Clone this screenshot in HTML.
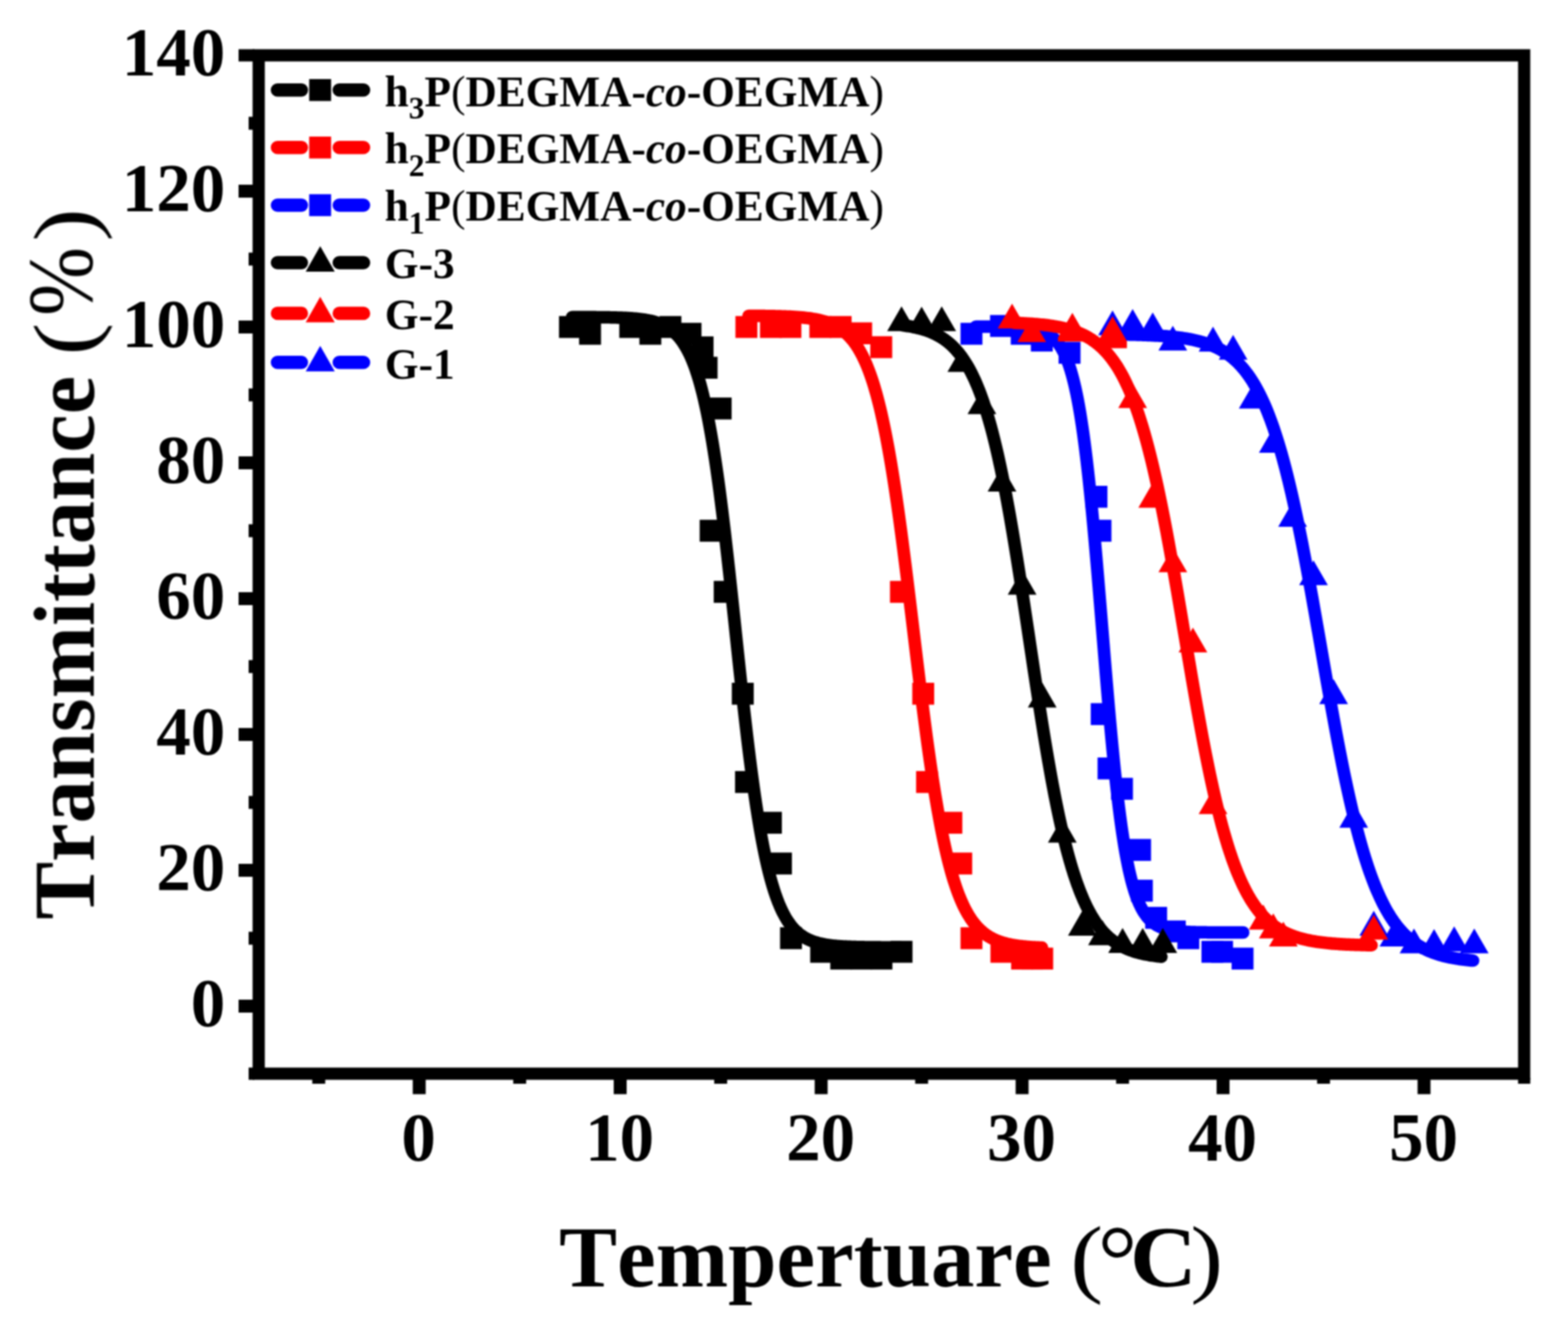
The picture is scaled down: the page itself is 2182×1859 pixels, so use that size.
<!DOCTYPE html>
<html lang="en"><head><meta charset="utf-8"><title>Transmittance vs Temperature</title>
<style>
html,body{margin:0;padding:0;background:#fff}
body{width:2182px;height:1859px;overflow:hidden}
svg{display:block}
text{font-family:"Liberation Serif","Times New Roman",serif;font-weight:bold;fill:#000;font-kerning:none;font-variant-ligatures:none}
.n{font-weight:normal}
</style></head><body>
<svg width="2182" height="1859" viewBox="0 0 2182 1859">
<defs><filter id="soft" x="0" y="0" width="2182" height="1859" filterUnits="userSpaceOnUse" color-interpolation-filters="sRGB"><feGaussianBlur stdDeviation="1"/></filter></defs>
<rect width="2182" height="1859" fill="#fff"/>
<g filter="url(#soft)">
<g id="plots" stroke-linecap="round" stroke-linejoin="round">
<g id="usq">
<path d="M1358.03,454.47 L1359.59,454.48 L1361.14,454.48 L1362.70,454.48 L1364.26,454.49 L1365.81,454.49 L1367.37,454.50 L1368.92,454.50 L1370.48,454.51 L1372.04,454.51 L1373.59,454.52 L1375.15,454.53 L1376.71,454.53 L1378.26,454.54 L1379.82,454.55 L1381.37,454.56 L1382.93,454.57 L1384.49,454.58 L1386.04,454.60 L1387.60,454.61 L1389.15,454.63 L1390.71,454.65 L1392.27,454.67 L1393.82,454.69 L1395.38,454.71 L1396.94,454.74 L1398.49,454.76 L1400.05,454.79 L1401.60,454.83 L1403.16,454.86 L1404.72,454.90 L1406.27,454.95 L1407.83,455.00 L1409.39,455.05 L1410.94,455.11 L1412.50,455.17 L1414.05,455.24 L1415.61,455.31 L1417.17,455.39 L1418.72,455.48 L1420.28,455.58 L1421.84,455.69 L1423.39,455.81 L1424.95,455.94 L1426.50,456.08 L1428.06,456.23 L1429.62,456.40 L1431.17,456.59 L1432.73,456.79 L1434.28,457.01 L1435.84,457.25 L1437.40,457.52 L1438.95,457.81 L1440.51,458.13 L1442.07,458.47 L1443.62,458.85 L1445.18,459.27 L1446.73,459.72 L1448.29,460.22 L1449.85,460.76 L1451.40,461.36 L1452.96,462.01 L1454.52,462.72 L1456.07,463.49 L1457.63,464.34 L1459.18,465.26 L1460.74,466.27 L1462.30,467.38 L1463.85,468.58 L1465.41,469.89 L1466.97,471.33 L1468.52,472.89 L1470.08,474.60 L1471.63,476.46 L1473.19,478.48 L1474.75,480.69 L1476.30,483.09 L1477.86,485.70 L1479.41,488.54 L1480.97,491.63 L1482.53,494.98 L1484.08,498.62 L1485.64,502.56 L1487.20,506.84 L1488.75,511.47 L1490.31,516.47 L1491.86,521.87 L1493.42,527.70 L1494.98,533.99 L1496.53,540.75 L1498.09,548.02 L1499.65,555.81 L1501.20,564.16 L1502.76,573.09 L1504.31,582.62 L1505.87,592.77 L1507.43,603.55 L1508.98,614.98 L1510.54,627.08 L1512.10,639.83 L1513.65,653.25 L1515.21,667.32 L1516.76,682.04 L1518.32,697.38 L1519.88,713.33 L1521.43,729.84 L1522.99,746.87 L1524.55,764.38 L1526.10,782.32 L1527.66,800.62 L1529.21,819.23 L1530.77,838.05 L1532.33,857.04 L1533.88,876.10 L1535.44,895.15 L1536.99,914.14 L1538.55,932.96 L1540.11,951.56 L1541.66,969.86 L1543.22,987.79 L1544.78,1005.30 L1546.33,1022.33 L1547.89,1038.83 L1549.44,1054.77 L1551.00,1070.11 L1552.56,1084.82 L1554.11,1098.89 L1555.67,1112.30 L1557.23,1125.05 L1558.78,1137.13 L1560.34,1148.56 L1561.89,1159.33 L1563.45,1169.47 L1565.01,1179.00 L1566.56,1187.92 L1568.12,1196.26 L1569.68,1204.06 L1571.23,1211.32 L1572.79,1218.07 L1574.34,1224.35 L1575.90,1230.18 L1577.46,1235.58 L1579.01,1240.58 L1580.57,1245.20 L1582.12,1249.47 L1583.68,1253.41 L1585.24,1257.05 L1586.79,1260.40 L1588.35,1263.48 L1589.91,1266.32 L1591.46,1268.93 L1593.02,1271.33 L1594.57,1273.53 L1596.13,1275.56 L1597.69,1277.42 L1599.24,1279.12 L1600.80,1280.68 L1602.36,1282.12 L1603.91,1283.43 L1605.47,1284.63 L1607.02,1285.73 L1608.58,1286.74 L1610.14,1287.67 L1611.69,1288.51 L1613.25,1289.29 L1614.81,1290.00 L1616.36,1290.64 L1617.92,1291.24 L1619.47,1291.78 L1621.03,1292.28 L1622.59,1292.73 L1624.14,1293.15 L1625.70,1293.52 L1627.26,1293.87 L1628.81,1294.19 L1630.37,1294.48 L1631.92,1294.74 L1633.48,1294.99 L1635.04,1295.21 L1636.59,1295.41 L1638.15,1295.59 L1639.70,1295.76 L1641.26,1295.92 L1642.82,1296.06 L1644.37,1296.19 L1645.93,1296.31 L1647.49,1296.41 L1649.04,1296.51 L1650.60,1296.60 L1652.15,1296.68 L1653.71,1296.76 L1655.27,1296.83 L1656.82,1296.89 L1658.38,1296.95 L1659.94,1297.00 L1661.49,1297.05 L1663.05,1297.09 L1664.60,1297.13 L1666.16,1297.17 L1667.72,1297.20 L1669.27,1297.23 L1670.83,1297.26 L1672.39,1297.28 L1673.94,1297.31 L1675.50,1297.33 L1677.05,1297.35 L1678.61,1297.37 L1680.17,1297.38 L1681.72,1297.40 L1683.28,1297.41 L1684.83,1297.42 L1686.39,1297.43 L1687.95,1297.44 L1689.50,1297.45 L1691.06,1297.46 L1692.62,1297.47 L1694.17,1297.48 L1695.73,1297.48 L1697.28,1297.49 L1698.84,1297.49 L1700.40,1297.50 L1701.95,1297.50 L1703.51,1297.51 L1705.07,1297.51 L1706.62,1297.52 L1708.18,1297.52 L1709.73,1297.52 L1711.29,1297.52 L1712.85,1297.53 L1714.40,1297.53 L1715.96,1297.53 L1717.52,1297.53 L1719.07,1297.53 L1720.63,1297.54 L1722.18,1297.54 L1723.74,1297.54 L1725.30,1297.54 L1726.85,1297.54 L1728.41,1297.54 L1729.97,1297.54" fill="none" stroke="#00f" stroke-width="17.5"/>
<rect x="1336.63" y="449.20" width="30.50" height="30.50" fill="#00f"/>
<rect x="1377.74" y="438.33" width="30.50" height="30.50" fill="#00f"/>
<rect x="1406.54" y="449.20" width="30.50" height="30.50" fill="#00f"/>
<rect x="1434.51" y="458.65" width="30.50" height="30.50" fill="#00f"/>
<rect x="1473.10" y="475.66" width="30.50" height="30.50" fill="#00f"/>
<rect x="1510.57" y="676.00" width="30.50" height="30.50" fill="#00f"/>
<rect x="1516.16" y="723.25" width="30.50" height="30.50" fill="#00f"/>
<rect x="1517.84" y="978.40" width="30.50" height="30.50" fill="#00f"/>
<rect x="1527.35" y="1054.00" width="30.50" height="30.50" fill="#00f"/>
<rect x="1546.09" y="1082.35" width="30.50" height="30.50" fill="#00f"/>
<rect x="1571.25" y="1167.40" width="30.50" height="30.50" fill="#00f"/>
<rect x="1573.77" y="1224.10" width="30.50" height="30.50" fill="#00f"/>
<rect x="1593.63" y="1261.90" width="30.50" height="30.50" fill="#00f"/>
<rect x="1619.63" y="1280.80" width="30.50" height="30.50" fill="#00f"/>
<rect x="1638.37" y="1290.25" width="30.50" height="30.50" fill="#00f"/>
<rect x="1671.93" y="1309.15" width="30.50" height="30.50" fill="#00f"/>
<rect x="1685.35" y="1309.15" width="30.50" height="30.50" fill="#00f"/>
<rect x="1713.88" y="1318.60" width="30.50" height="30.50" fill="#00f"/>
</g>
<g id="rsq">
<path d="M1041.75,439.42 L1043.45,439.43 L1045.16,439.44 L1046.87,439.46 L1048.58,439.47 L1050.29,439.48 L1052.00,439.49 L1053.70,439.51 L1055.41,439.52 L1057.12,439.54 L1058.83,439.56 L1060.54,439.58 L1062.25,439.60 L1063.95,439.62 L1065.66,439.64 L1067.37,439.67 L1069.08,439.69 L1070.79,439.72 L1072.50,439.75 L1074.20,439.78 L1075.91,439.82 L1077.62,439.85 L1079.33,439.89 L1081.04,439.93 L1082.75,439.98 L1084.45,440.02 L1086.16,440.07 L1087.87,440.13 L1089.58,440.18 L1091.29,440.24 L1093.00,440.31 L1094.70,440.38 L1096.41,440.45 L1098.12,440.53 L1099.83,440.61 L1101.54,440.70 L1103.25,440.80 L1104.95,440.90 L1106.66,441.01 L1108.37,441.12 L1110.08,441.25 L1111.79,441.38 L1113.50,441.52 L1115.20,441.67 L1116.91,441.82 L1118.62,441.99 L1120.33,442.18 L1122.04,442.37 L1123.75,442.57 L1125.45,442.79 L1127.16,443.03 L1128.87,443.28 L1130.58,443.54 L1132.29,443.83 L1134.00,444.13 L1135.70,444.45 L1137.41,444.79 L1139.12,445.16 L1140.83,445.55 L1142.54,445.97 L1144.25,446.41 L1145.95,446.88 L1147.66,447.39 L1149.37,447.92 L1151.08,448.49 L1152.79,449.10 L1154.50,449.75 L1156.20,450.44 L1157.91,451.18 L1159.62,451.96 L1161.33,452.79 L1163.04,453.68 L1164.75,454.63 L1166.45,455.63 L1168.16,456.70 L1169.87,457.84 L1171.58,459.06 L1173.29,460.35 L1175.00,461.72 L1176.70,463.17 L1178.41,464.72 L1180.12,466.37 L1181.83,468.12 L1183.54,469.98 L1185.25,471.95 L1186.95,474.05 L1188.66,476.28 L1190.37,478.64 L1192.08,481.14 L1193.79,483.79 L1195.50,486.61 L1197.20,489.59 L1198.91,492.74 L1200.62,496.08 L1202.33,499.62 L1204.04,503.35 L1205.75,507.30 L1207.45,511.47 L1209.16,515.87 L1210.87,520.51 L1212.58,525.41 L1214.29,530.56 L1216.00,535.99 L1217.70,541.70 L1219.41,547.69 L1221.12,553.99 L1222.83,560.60 L1224.54,567.52 L1226.25,574.76 L1227.95,582.34 L1229.66,590.26 L1231.37,598.51 L1233.08,607.12 L1234.79,616.08 L1236.50,625.39 L1238.20,635.05 L1239.91,645.07 L1241.62,655.44 L1243.33,666.15 L1245.04,677.21 L1246.75,688.60 L1248.45,700.31 L1250.16,712.33 L1251.87,724.66 L1253.58,737.26 L1255.29,750.13 L1256.99,763.25 L1258.70,776.60 L1260.41,790.14 L1262.12,803.87 L1263.83,817.75 L1265.54,831.76 L1267.24,845.86 L1268.95,860.03 L1270.66,874.25 L1272.37,888.47 L1274.08,902.68 L1275.79,916.84 L1277.49,930.92 L1279.20,944.89 L1280.91,958.73 L1282.62,972.41 L1284.33,985.90 L1286.04,999.19 L1287.74,1012.24 L1289.45,1025.04 L1291.16,1037.58 L1292.87,1049.82 L1294.58,1061.76 L1296.29,1073.38 L1297.99,1084.68 L1299.70,1095.65 L1301.41,1106.27 L1303.12,1116.54 L1304.83,1126.46 L1306.54,1136.03 L1308.24,1145.24 L1309.95,1154.10 L1311.66,1162.62 L1313.37,1170.78 L1315.08,1178.60 L1316.79,1186.09 L1318.49,1193.25 L1320.20,1200.08 L1321.91,1206.60 L1323.62,1212.81 L1325.33,1218.73 L1327.04,1224.36 L1328.74,1229.71 L1330.45,1234.80 L1332.16,1239.62 L1333.87,1244.20 L1335.58,1248.53 L1337.29,1252.64 L1338.99,1256.53 L1340.70,1260.21 L1342.41,1263.69 L1344.12,1266.98 L1345.83,1270.09 L1347.54,1273.02 L1349.24,1275.79 L1350.95,1278.40 L1352.66,1280.87 L1354.37,1283.19 L1356.08,1285.38 L1357.79,1287.44 L1359.49,1289.38 L1361.20,1291.21 L1362.91,1292.93 L1364.62,1294.55 L1366.33,1296.08 L1368.04,1297.51 L1369.74,1298.86 L1371.45,1300.13 L1373.16,1301.32 L1374.87,1302.44 L1376.58,1303.49 L1378.29,1304.48 L1379.99,1305.41 L1381.70,1306.28 L1383.41,1307.10 L1385.12,1307.87 L1386.83,1308.60 L1388.54,1309.28 L1390.24,1309.91 L1391.95,1310.51 L1393.66,1311.07 L1395.37,1311.60 L1397.08,1312.10 L1398.79,1312.56 L1400.49,1313.00 L1402.20,1313.40 L1403.91,1313.79 L1405.62,1314.15 L1407.33,1314.48 L1409.04,1314.80 L1410.74,1315.10 L1412.45,1315.38 L1414.16,1315.64 L1415.87,1315.88 L1417.58,1316.11 L1419.29,1316.33 L1420.99,1316.53 L1422.70,1316.72 L1424.41,1316.90 L1426.12,1317.07 L1427.83,1317.22 L1429.54,1317.37 L1431.24,1317.51 L1432.95,1317.64 L1434.66,1317.76 L1436.37,1317.87 L1438.08,1317.98 L1439.79,1318.08 L1441.49,1318.17 L1443.20,1318.26 L1444.91,1318.34 L1446.62,1318.42 L1448.33,1318.49 L1450.04,1318.56" fill="none" stroke="#f00" stroke-width="17.5"/>
<rect x="1023.42" y="439.75" width="30.50" height="30.50" fill="#f00"/>
<rect x="1057.54" y="439.75" width="30.50" height="30.50" fill="#f00"/>
<rect x="1084.66" y="439.75" width="30.50" height="30.50" fill="#f00"/>
<rect x="1126.33" y="439.75" width="30.50" height="30.50" fill="#f00"/>
<rect x="1154.58" y="439.75" width="30.50" height="30.50" fill="#f00"/>
<rect x="1183.10" y="448.54" width="30.50" height="30.50" fill="#f00"/>
<rect x="1211.07" y="467.82" width="30.50" height="30.50" fill="#f00"/>
<rect x="1238.47" y="808.30" width="30.50" height="30.50" fill="#f00"/>
<rect x="1269.51" y="950.05" width="30.50" height="30.50" fill="#f00"/>
<rect x="1274.83" y="1072.90" width="30.50" height="30.50" fill="#f00"/>
<rect x="1308.66" y="1129.60" width="30.50" height="30.50" fill="#f00"/>
<rect x="1322.37" y="1186.30" width="30.50" height="30.50" fill="#f00"/>
<rect x="1336.63" y="1290.25" width="30.50" height="30.50" fill="#f00"/>
<rect x="1378.30" y="1309.15" width="30.50" height="30.50" fill="#f00"/>
<rect x="1407.10" y="1318.60" width="30.50" height="30.50" fill="#f00"/>
<rect x="1421.08" y="1318.60" width="30.50" height="30.50" fill="#f00"/>
<rect x="1435.07" y="1318.60" width="30.50" height="30.50" fill="#f00"/>
</g>
<g id="bsq">
<path d="M796.21,441.21 L798.13,441.22 L800.04,441.22 L801.96,441.23 L803.87,441.23 L805.78,441.24 L807.70,441.24 L809.61,441.25 L811.53,441.26 L813.44,441.27 L815.36,441.27 L817.27,441.28 L819.18,441.29 L821.10,441.30 L823.01,441.32 L824.93,441.33 L826.84,441.34 L828.76,441.36 L830.67,441.38 L832.58,441.39 L834.50,441.41 L836.41,441.43 L838.33,441.46 L840.24,441.48 L842.16,441.51 L844.07,441.54 L845.98,441.57 L847.90,441.61 L849.81,441.65 L851.73,441.69 L853.64,441.73 L855.56,441.78 L857.47,441.83 L859.38,441.89 L861.30,441.95 L863.21,442.02 L865.13,442.09 L867.04,442.17 L868.96,442.26 L870.87,442.36 L872.78,442.46 L874.70,442.57 L876.61,442.69 L878.53,442.82 L880.44,442.96 L882.36,443.12 L884.27,443.29 L886.18,443.47 L888.10,443.67 L890.01,443.88 L891.93,444.12 L893.84,444.37 L895.76,444.64 L897.67,444.94 L899.58,445.27 L901.50,445.62 L903.41,446.00 L905.33,446.41 L907.24,446.86 L909.15,447.35 L911.07,447.88 L912.98,448.45 L914.90,449.08 L916.81,449.75 L918.73,450.48 L920.64,451.28 L922.55,452.14 L924.47,453.07 L926.38,454.08 L928.30,455.18 L930.21,456.36 L932.13,457.65 L934.04,459.04 L935.95,460.55 L937.87,462.18 L939.78,463.94 L941.70,465.85 L943.61,467.91 L945.53,470.14 L947.44,472.55 L949.35,475.15 L951.27,477.96 L953.18,480.98 L955.10,484.25 L957.01,487.76 L958.93,491.55 L960.84,495.62 L962.75,500.00 L964.67,504.70 L966.58,509.75 L968.50,515.16 L970.41,520.96 L972.33,527.16 L974.24,533.79 L976.15,540.87 L978.07,548.41 L979.98,556.44 L981.90,564.97 L983.81,574.02 L985.73,583.61 L987.64,593.76 L989.55,604.46 L991.47,615.73 L993.38,627.58 L995.30,640.00 L997.21,653.00 L999.12,666.56 L1001.04,680.69 L1002.95,695.35 L1004.87,710.53 L1006.78,726.20 L1008.70,742.33 L1010.61,758.88 L1012.52,775.81 L1014.44,793.08 L1016.35,810.64 L1018.27,828.42 L1020.18,846.38 L1022.10,864.45 L1024.01,882.57 L1025.92,900.68 L1027.84,918.72 L1029.75,936.63 L1031.67,954.35 L1033.58,971.82 L1035.50,988.99 L1037.41,1005.81 L1039.32,1022.23 L1041.24,1038.22 L1043.15,1053.74 L1045.07,1068.76 L1046.98,1083.25 L1048.90,1097.20 L1050.81,1110.59 L1052.72,1123.40 L1054.64,1135.65 L1056.55,1147.31 L1058.47,1158.40 L1060.38,1168.93 L1062.30,1178.90 L1064.21,1188.32 L1066.12,1197.20 L1068.04,1205.58 L1069.95,1213.45 L1071.87,1220.84 L1073.78,1227.77 L1075.70,1234.27 L1077.61,1240.34 L1079.52,1246.01 L1081.44,1251.31 L1083.35,1256.25 L1085.27,1260.85 L1087.18,1265.13 L1089.09,1269.11 L1091.01,1272.80 L1092.92,1276.24 L1094.84,1279.43 L1096.75,1282.38 L1098.67,1285.12 L1100.58,1287.66 L1102.49,1290.01 L1104.41,1292.19 L1106.32,1294.20 L1108.24,1296.06 L1110.15,1297.78 L1112.07,1299.37 L1113.98,1300.84 L1115.89,1302.20 L1117.81,1303.45 L1119.72,1304.61 L1121.64,1305.68 L1123.55,1306.66 L1125.47,1307.57 L1127.38,1308.41 L1129.29,1309.19 L1131.21,1309.90 L1133.12,1310.56 L1135.04,1311.16 L1136.95,1311.72 L1138.87,1312.24 L1140.78,1312.71 L1142.69,1313.15 L1144.61,1313.56 L1146.52,1313.93 L1148.44,1314.27 L1150.35,1314.59 L1152.27,1314.88 L1154.18,1315.15 L1156.09,1315.39 L1158.01,1315.62 L1159.92,1315.83 L1161.84,1316.02 L1163.75,1316.20 L1165.67,1316.36 L1167.58,1316.51 L1169.49,1316.65 L1171.41,1316.78 L1173.32,1316.90 L1175.24,1317.01 L1177.15,1317.11 L1179.07,1317.20 L1180.98,1317.28 L1182.89,1317.36 L1184.81,1317.43 L1186.72,1317.50 L1188.64,1317.56 L1190.55,1317.62 L1192.46,1317.67 L1194.38,1317.72 L1196.29,1317.76 L1198.21,1317.80 L1200.12,1317.84 L1202.04,1317.87 L1203.95,1317.90 L1205.86,1317.93 L1207.78,1317.96 L1209.69,1317.98 L1211.61,1318.00 L1213.52,1318.03 L1215.44,1318.04 L1217.35,1318.06 L1219.26,1318.08 L1221.18,1318.09 L1223.09,1318.11 L1225.01,1318.12 L1226.92,1318.13 L1228.84,1318.14 L1230.75,1318.15 L1232.66,1318.16 L1234.58,1318.17 L1236.49,1318.18 L1238.41,1318.18 L1240.32,1318.19 L1242.24,1318.20 L1244.15,1318.20 L1246.06,1318.21 L1247.98,1318.21 L1249.89,1318.22 L1251.81,1318.22 L1253.72,1318.22" fill="none" stroke="#000" stroke-width="17.5"/>
<rect x="777.89" y="439.75" width="30.50" height="30.50" fill="#000"/>
<rect x="805.85" y="449.20" width="30.50" height="30.50" fill="#000"/>
<rect x="861.78" y="439.75" width="30.50" height="30.50" fill="#000"/>
<rect x="889.75" y="449.20" width="30.50" height="30.50" fill="#000"/>
<rect x="917.71" y="439.75" width="30.50" height="30.50" fill="#000"/>
<rect x="945.68" y="449.20" width="30.50" height="30.50" fill="#000"/>
<rect x="962.46" y="468.10" width="30.50" height="30.50" fill="#000"/>
<rect x="968.05" y="496.45" width="30.50" height="30.50" fill="#000"/>
<rect x="987.62" y="553.15" width="30.50" height="30.50" fill="#000"/>
<rect x="973.64" y="723.25" width="30.50" height="30.50" fill="#000"/>
<rect x="993.22" y="808.30" width="30.50" height="30.50" fill="#000"/>
<rect x="1018.39" y="950.05" width="30.50" height="30.50" fill="#000"/>
<rect x="1022.86" y="1072.90" width="30.50" height="30.50" fill="#000"/>
<rect x="1057.54" y="1129.60" width="30.50" height="30.50" fill="#000"/>
<rect x="1071.52" y="1186.30" width="30.50" height="30.50" fill="#000"/>
<rect x="1085.50" y="1290.25" width="30.50" height="30.50" fill="#000"/>
<rect x="1127.45" y="1309.15" width="30.50" height="30.50" fill="#000"/>
<rect x="1155.41" y="1318.60" width="30.50" height="30.50" fill="#000"/>
<rect x="1183.38" y="1318.60" width="30.50" height="30.50" fill="#000"/>
<rect x="1211.35" y="1318.60" width="30.50" height="30.50" fill="#000"/>
<rect x="1239.31" y="1309.15" width="30.50" height="30.50" fill="#000"/>
</g>
<g id="utr">
<path d="M1550.99,465.33 L1553.08,465.35 L1555.16,465.38 L1557.25,465.41 L1559.34,465.44 L1561.43,465.47 L1563.51,465.51 L1565.60,465.54 L1567.69,465.58 L1569.78,465.62 L1571.86,465.66 L1573.95,465.71 L1576.04,465.76 L1578.13,465.81 L1580.21,465.86 L1582.30,465.91 L1584.39,465.97 L1586.48,466.04 L1588.56,466.10 L1590.65,466.17 L1592.74,466.24 L1594.83,466.32 L1596.91,466.40 L1599.00,466.49 L1601.09,466.58 L1603.17,466.68 L1605.26,466.78 L1607.35,466.89 L1609.44,467.00 L1611.52,467.12 L1613.61,467.25 L1615.70,467.38 L1617.79,467.52 L1619.87,467.67 L1621.96,467.83 L1624.05,468.00 L1626.14,468.17 L1628.22,468.36 L1630.31,468.55 L1632.40,468.76 L1634.49,468.98 L1636.57,469.21 L1638.66,469.45 L1640.75,469.71 L1642.84,469.98 L1644.92,470.27 L1647.01,470.57 L1649.10,470.89 L1651.19,471.23 L1653.27,471.58 L1655.36,471.96 L1657.45,472.35 L1659.54,472.77 L1661.62,473.21 L1663.71,473.68 L1665.80,474.17 L1667.89,474.69 L1669.97,475.23 L1672.06,475.81 L1674.15,476.42 L1676.23,477.06 L1678.32,477.74 L1680.41,478.45 L1682.50,479.20 L1684.58,480.00 L1686.67,480.83 L1688.76,481.72 L1690.85,482.65 L1692.93,483.63 L1695.02,484.66 L1697.11,485.75 L1699.20,486.89 L1701.28,488.10 L1703.37,489.37 L1705.46,490.71 L1707.55,492.13 L1709.63,493.61 L1711.72,495.17 L1713.81,496.82 L1715.90,498.55 L1717.98,500.37 L1720.07,502.28 L1722.16,504.30 L1724.25,506.41 L1726.33,508.64 L1728.42,510.97 L1730.51,513.43 L1732.60,516.00 L1734.68,518.71 L1736.77,521.54 L1738.86,524.52 L1740.95,527.64 L1743.03,530.91 L1745.12,534.33 L1747.21,537.92 L1749.29,541.67 L1751.38,545.60 L1753.47,549.71 L1755.56,554.00 L1757.64,558.48 L1759.73,563.16 L1761.82,568.05 L1763.91,573.14 L1765.99,578.45 L1768.08,583.98 L1770.17,589.73 L1772.26,595.71 L1774.34,601.93 L1776.43,608.39 L1778.52,615.08 L1780.61,622.03 L1782.69,629.22 L1784.78,636.66 L1786.87,644.35 L1788.96,652.30 L1791.04,660.50 L1793.13,668.95 L1795.22,677.65 L1797.31,686.60 L1799.39,695.79 L1801.48,705.23 L1803.57,714.90 L1805.66,724.80 L1807.74,734.93 L1809.83,745.27 L1811.92,755.81 L1814.01,766.55 L1816.09,777.48 L1818.18,788.57 L1820.27,799.83 L1822.35,811.23 L1824.44,822.76 L1826.53,834.41 L1828.62,846.16 L1830.70,857.99 L1832.79,869.89 L1834.88,881.83 L1836.97,893.81 L1839.05,905.80 L1841.14,917.78 L1843.23,929.74 L1845.32,941.67 L1847.40,953.53 L1849.49,965.31 L1851.58,977.01 L1853.67,988.59 L1855.75,1000.05 L1857.84,1011.38 L1859.93,1022.54 L1862.02,1033.55 L1864.10,1044.37 L1866.19,1055.00 L1868.28,1065.43 L1870.37,1075.65 L1872.45,1085.65 L1874.54,1095.43 L1876.63,1104.97 L1878.72,1114.27 L1880.80,1123.33 L1882.89,1132.14 L1884.98,1140.70 L1887.07,1149.01 L1889.15,1157.06 L1891.24,1164.87 L1893.33,1172.42 L1895.41,1179.72 L1897.50,1186.77 L1899.59,1193.58 L1901.68,1200.14 L1903.76,1206.46 L1905.85,1212.54 L1907.94,1218.40 L1910.03,1224.02 L1912.11,1229.43 L1914.20,1234.62 L1916.29,1239.59 L1918.38,1244.36 L1920.46,1248.93 L1922.55,1253.31 L1924.64,1257.50 L1926.73,1261.50 L1928.81,1265.33 L1930.90,1268.99 L1932.99,1272.49 L1935.08,1275.82 L1937.16,1279.01 L1939.25,1282.05 L1941.34,1284.94 L1943.43,1287.70 L1945.51,1290.33 L1947.60,1292.84 L1949.69,1295.23 L1951.78,1297.50 L1953.86,1299.66 L1955.95,1301.72 L1958.04,1303.68 L1960.13,1305.54 L1962.21,1307.31 L1964.30,1308.99 L1966.39,1310.59 L1968.47,1312.11 L1970.56,1313.55 L1972.65,1314.92 L1974.74,1316.22 L1976.82,1317.46 L1978.91,1318.63 L1981.00,1319.75 L1983.09,1320.80 L1985.17,1321.81 L1987.26,1322.76 L1989.35,1323.66 L1991.44,1324.52 L1993.52,1325.33 L1995.61,1326.10 L1997.70,1326.83 L1999.79,1327.52 L2001.87,1328.18 L2003.96,1328.80 L2006.05,1329.39 L2008.14,1329.95 L2010.22,1330.48 L2012.31,1330.99 L2014.40,1331.46 L2016.49,1331.92 L2018.57,1332.34 L2020.66,1332.75 L2022.75,1333.13 L2024.84,1333.50 L2026.92,1333.84 L2029.01,1334.17 L2031.10,1334.48 L2033.19,1334.77 L2035.27,1335.05 L2037.36,1335.31 L2039.45,1335.56 L2041.53,1335.80 L2043.62,1336.02 L2045.71,1336.23 L2047.80,1336.43 L2049.88,1336.62" fill="none" stroke="#00f" stroke-width="17.5"/>
<polygon points="1548.19,431.93 1568.19,466.53 1528.19,466.53" fill="#00f"/>
<polygon points="1576.16,430.04 1596.16,464.64 1556.16,464.64" fill="#00f"/>
<polygon points="1604.12,434.77 1624.12,469.37 1584.12,469.37" fill="#00f"/>
<polygon points="1632.09,453.20 1652.09,487.80 1612.09,487.80" fill="#00f"/>
<polygon points="1688.02,454.61 1708.02,489.21 1668.02,489.21" fill="#00f"/>
<polygon points="1715.98,465.95 1735.98,500.55 1695.98,500.55" fill="#00f"/>
<polygon points="1743.95,533.99 1763.95,568.59 1723.95,568.59" fill="#00f"/>
<polygon points="1771.91,595.42 1791.91,630.02 1751.91,630.02" fill="#00f"/>
<polygon points="1798.76,698.42 1818.76,733.02 1778.76,733.02" fill="#00f"/>
<polygon points="1827.84,779.69 1847.84,814.29 1807.84,814.29" fill="#00f"/>
<polygon points="1855.81,945.07 1875.81,979.67 1835.81,979.67" fill="#00f"/>
<polygon points="1883.77,1117.06 1903.77,1151.66 1863.77,1151.66" fill="#00f"/>
<polygon points="1911.74,1267.31 1931.74,1301.91 1891.74,1301.91" fill="#00f"/>
<polygon points="1939.70,1282.43 1959.70,1317.03 1919.70,1317.03" fill="#00f"/>
<polygon points="1967.67,1291.88 1987.67,1326.48 1947.67,1326.48" fill="#00f"/>
<polygon points="1995.63,1292.83 2015.63,1327.43 1975.63,1327.43" fill="#00f"/>
<polygon points="2023.60,1289.05 2043.60,1323.65 2003.60,1323.65" fill="#00f"/>
<polygon points="2051.56,1291.88 2071.56,1326.48 2031.56,1326.48" fill="#00f"/>
</g>
<g id="rtr">
<path d="M1411.16,449.25 L1413.25,449.32 L1415.33,449.41 L1417.41,449.49 L1419.49,449.58 L1421.57,449.68 L1423.65,449.78 L1425.74,449.89 L1427.82,450.01 L1429.90,450.13 L1431.98,450.26 L1434.06,450.39 L1436.14,450.54 L1438.22,450.69 L1440.31,450.85 L1442.39,451.02 L1444.47,451.20 L1446.55,451.39 L1448.63,451.59 L1450.71,451.81 L1452.80,452.03 L1454.88,452.27 L1456.96,452.53 L1459.04,452.79 L1461.12,453.08 L1463.20,453.38 L1465.29,453.69 L1467.37,454.03 L1469.45,454.38 L1471.53,454.76 L1473.61,455.16 L1475.69,455.58 L1477.77,456.02 L1479.86,456.49 L1481.94,456.99 L1484.02,457.51 L1486.10,458.07 L1488.18,458.66 L1490.26,459.28 L1492.35,459.93 L1494.43,460.63 L1496.51,461.36 L1498.59,462.13 L1500.67,462.95 L1502.75,463.82 L1504.84,464.73 L1506.92,465.70 L1509.00,466.72 L1511.08,467.79 L1513.16,468.93 L1515.24,470.13 L1517.32,471.40 L1519.41,472.73 L1521.49,474.14 L1523.57,475.63 L1525.65,477.20 L1527.73,478.86 L1529.81,480.60 L1531.90,482.44 L1533.98,484.38 L1536.06,486.43 L1538.14,488.58 L1540.22,490.84 L1542.30,493.23 L1544.39,495.74 L1546.47,498.38 L1548.55,501.16 L1550.63,504.08 L1552.71,507.15 L1554.79,510.37 L1556.87,513.75 L1558.96,517.31 L1561.04,521.03 L1563.12,524.94 L1565.20,529.03 L1567.28,533.32 L1569.36,537.81 L1571.45,542.51 L1573.53,547.42 L1575.61,552.55 L1577.69,557.91 L1579.77,563.50 L1581.85,569.33 L1583.94,575.41 L1586.02,581.73 L1588.10,588.31 L1590.18,595.15 L1592.26,602.24 L1594.34,609.61 L1596.42,617.24 L1598.51,625.14 L1600.59,633.32 L1602.67,641.76 L1604.75,650.48 L1606.83,659.46 L1608.91,668.71 L1611.00,678.23 L1613.08,688.00 L1615.16,698.02 L1617.24,708.29 L1619.32,718.80 L1621.40,729.53 L1623.49,740.48 L1625.57,751.63 L1627.65,762.98 L1629.73,774.51 L1631.81,786.20 L1633.89,798.03 L1635.97,810.00 L1638.06,822.09 L1640.14,834.26 L1642.22,846.52 L1644.30,858.83 L1646.38,871.18 L1648.46,883.54 L1650.55,895.91 L1652.63,908.25 L1654.71,920.55 L1656.79,932.78 L1658.87,944.94 L1660.95,956.99 L1663.04,968.93 L1665.12,980.73 L1667.20,992.38 L1669.28,1003.86 L1671.36,1015.16 L1673.44,1026.26 L1675.52,1037.15 L1677.61,1047.83 L1679.69,1058.27 L1681.77,1068.48 L1683.85,1078.44 L1685.93,1088.14 L1688.01,1097.59 L1690.10,1106.77 L1692.18,1115.69 L1694.26,1124.33 L1696.34,1132.71 L1698.42,1140.81 L1700.50,1148.65 L1702.59,1156.21 L1704.67,1163.51 L1706.75,1170.54 L1708.83,1177.31 L1710.91,1183.82 L1712.99,1190.08 L1715.07,1196.09 L1717.16,1201.86 L1719.24,1207.39 L1721.32,1212.69 L1723.40,1217.76 L1725.48,1222.62 L1727.56,1227.26 L1729.65,1231.70 L1731.73,1235.93 L1733.81,1239.98 L1735.89,1243.84 L1737.97,1247.52 L1740.05,1251.03 L1742.14,1254.37 L1744.22,1257.55 L1746.30,1260.58 L1748.38,1263.47 L1750.46,1266.21 L1752.54,1268.81 L1754.62,1271.29 L1756.71,1273.65 L1758.79,1275.88 L1760.87,1278.00 L1762.95,1280.02 L1765.03,1281.93 L1767.11,1283.75 L1769.20,1285.47 L1771.28,1287.10 L1773.36,1288.65 L1775.44,1290.12 L1777.52,1291.51 L1779.60,1292.83 L1781.69,1294.08 L1783.77,1295.26 L1785.85,1296.38 L1787.93,1297.44 L1790.01,1298.45 L1792.09,1299.40 L1794.17,1300.30 L1796.26,1301.16 L1798.34,1301.96 L1800.42,1302.73 L1802.50,1303.45 L1804.58,1304.13 L1806.66,1304.78 L1808.75,1305.39 L1810.83,1305.97 L1812.91,1306.52 L1814.99,1307.04 L1817.07,1307.52 L1819.15,1307.99 L1821.24,1308.43 L1823.32,1308.84 L1825.40,1309.23 L1827.48,1309.60 L1829.56,1309.95 L1831.64,1310.28 L1833.72,1310.59 L1835.81,1310.89 L1837.89,1311.17 L1839.97,1311.43 L1842.05,1311.68 L1844.13,1311.92 L1846.21,1312.14 L1848.30,1312.35 L1850.38,1312.55 L1852.46,1312.74 L1854.54,1312.92 L1856.62,1313.09 L1858.70,1313.24 L1860.79,1313.39 L1862.87,1313.54 L1864.95,1313.67 L1867.03,1313.80 L1869.11,1313.92 L1871.19,1314.03 L1873.27,1314.14 L1875.36,1314.24 L1877.44,1314.33 L1879.52,1314.42 L1881.60,1314.51 L1883.68,1314.59 L1885.76,1314.66 L1887.85,1314.74 L1889.93,1314.80 L1892.01,1314.87 L1894.09,1314.93 L1896.17,1314.99 L1898.25,1315.04 L1900.34,1315.09 L1902.42,1315.14 L1904.50,1315.18 L1906.58,1315.23 L1908.66,1315.27" fill="none" stroke="#f00" stroke-width="17.5"/>
<polygon points="1408.37,422.48 1428.37,457.08 1388.37,457.08" fill="#f00"/>
<polygon points="1435.77,441.38 1455.77,475.98 1415.77,475.98" fill="#f00"/>
<polygon points="1492.26,435.15 1512.26,469.75 1512.26,475.25 1472.26,475.25 1472.26,469.75" fill="#f00"/>
<polygon points="1548.19,440.06 1568.19,474.66 1568.19,484.46 1528.19,484.46 1528.19,474.66" fill="#f00"/>
<polygon points="1576.16,533.05 1596.16,567.65 1556.16,567.65" fill="#f00"/>
<polygon points="1604.12,671.96 1624.12,706.56 1584.12,706.56" fill="#f00"/>
<polygon points="1632.09,761.74 1652.09,796.34 1612.09,796.34" fill="#f00"/>
<polygon points="1660.05,873.25 1680.05,907.85 1640.05,907.85" fill="#f00"/>
<polygon points="1688.02,1098.16 1708.02,1132.76 1668.02,1132.76" fill="#f00"/>
<polygon points="1757.93,1258.81 1777.93,1293.41 1737.93,1293.41" fill="#f00"/>
<polygon points="1771.91,1271.09 1791.91,1305.69 1751.91,1305.69" fill="#f00"/>
<polygon points="1785.89,1282.43 1805.89,1317.03 1765.89,1317.03" fill="#f00"/>
<polygon points="1911.74,1272.98 1931.74,1307.58 1891.74,1307.58" fill="#f00"/>
</g>
<g id="btr">
<path d="M1257.36,452.87 L1258.86,453.07 L1260.36,453.28 L1261.86,453.50 L1263.36,453.73 L1264.86,453.98 L1266.36,454.23 L1267.87,454.49 L1269.37,454.77 L1270.87,455.06 L1272.37,455.36 L1273.87,455.68 L1275.37,456.01 L1276.87,456.36 L1278.37,456.72 L1279.87,457.10 L1281.38,457.49 L1282.88,457.91 L1284.38,458.34 L1285.88,458.79 L1287.38,459.26 L1288.88,459.76 L1290.38,460.27 L1291.88,460.81 L1293.39,461.38 L1294.89,461.97 L1296.39,462.59 L1297.89,463.23 L1299.39,463.90 L1300.89,464.61 L1302.39,465.34 L1303.89,466.11 L1305.40,466.91 L1306.90,467.75 L1308.40,468.62 L1309.90,469.54 L1311.40,470.49 L1312.90,471.49 L1314.40,472.53 L1315.90,473.61 L1317.41,474.75 L1318.91,475.93 L1320.41,477.16 L1321.91,478.45 L1323.41,479.80 L1324.91,481.20 L1326.41,482.66 L1327.91,484.18 L1329.41,485.77 L1330.92,487.43 L1332.42,489.16 L1333.92,490.96 L1335.42,492.83 L1336.92,494.79 L1338.42,496.82 L1339.92,498.94 L1341.42,501.15 L1342.93,503.45 L1344.43,505.84 L1345.93,508.32 L1347.43,510.91 L1348.93,513.60 L1350.43,516.39 L1351.93,519.30 L1353.43,522.32 L1354.94,525.45 L1356.44,528.71 L1357.94,532.08 L1359.44,535.59 L1360.94,539.22 L1362.44,542.99 L1363.94,546.90 L1365.44,550.95 L1366.95,555.14 L1368.45,559.48 L1369.95,563.96 L1371.45,568.61 L1372.95,573.40 L1374.45,578.36 L1375.95,583.48 L1377.45,588.76 L1378.96,594.21 L1380.46,599.83 L1381.96,605.62 L1383.46,611.58 L1384.96,617.72 L1386.46,624.03 L1387.96,630.52 L1389.46,637.18 L1390.96,644.02 L1392.47,651.03 L1393.97,658.22 L1395.47,665.58 L1396.97,673.12 L1398.47,680.83 L1399.97,688.70 L1401.47,696.74 L1402.97,704.95 L1404.48,713.31 L1405.98,721.83 L1407.48,730.49 L1408.98,739.30 L1410.48,748.25 L1411.98,757.33 L1413.48,766.54 L1414.98,775.86 L1416.49,785.30 L1417.99,794.84 L1419.49,804.48 L1420.99,814.20 L1422.49,824.00 L1423.99,833.87 L1425.49,843.80 L1426.99,853.77 L1428.50,863.78 L1430.00,873.83 L1431.50,883.89 L1433.00,893.96 L1434.50,904.02 L1436.00,914.08 L1437.50,924.11 L1439.00,934.10 L1440.51,944.06 L1442.01,953.96 L1443.51,963.79 L1445.01,973.56 L1446.51,983.24 L1448.01,992.83 L1449.51,1002.32 L1451.01,1011.71 L1452.51,1020.98 L1454.02,1030.13 L1455.52,1039.15 L1457.02,1048.03 L1458.52,1056.77 L1460.02,1065.37 L1461.52,1073.81 L1463.02,1082.10 L1464.52,1090.22 L1466.03,1098.19 L1467.53,1105.98 L1469.03,1113.61 L1470.53,1121.06 L1472.03,1128.34 L1473.53,1135.45 L1475.03,1142.38 L1476.53,1149.13 L1478.04,1155.71 L1479.54,1162.11 L1481.04,1168.34 L1482.54,1174.39 L1484.04,1180.27 L1485.54,1185.98 L1487.04,1191.52 L1488.54,1196.89 L1490.05,1202.09 L1491.55,1207.14 L1493.05,1212.02 L1494.55,1216.74 L1496.05,1221.31 L1497.55,1225.72 L1499.05,1229.99 L1500.55,1234.11 L1502.05,1238.09 L1503.56,1241.93 L1505.06,1245.64 L1506.56,1249.21 L1508.06,1252.66 L1509.56,1255.97 L1511.06,1259.17 L1512.56,1262.25 L1514.06,1265.21 L1515.57,1268.07 L1517.07,1270.81 L1518.57,1273.45 L1520.07,1275.99 L1521.57,1278.43 L1523.07,1280.77 L1524.57,1283.03 L1526.07,1285.19 L1527.58,1287.27 L1529.08,1289.27 L1530.58,1291.18 L1532.08,1293.02 L1533.58,1294.79 L1535.08,1296.48 L1536.58,1298.11 L1538.08,1299.66 L1539.59,1301.16 L1541.09,1302.59 L1542.59,1303.97 L1544.09,1305.28 L1545.59,1306.54 L1547.09,1307.75 L1548.59,1308.91 L1550.09,1310.02 L1551.60,1311.09 L1553.10,1312.11 L1554.60,1313.08 L1556.10,1314.02 L1557.60,1314.91 L1559.10,1315.77 L1560.60,1316.59 L1562.10,1317.37 L1563.60,1318.13 L1565.11,1318.85 L1566.61,1319.54 L1568.11,1320.19 L1569.61,1320.83 L1571.11,1321.43 L1572.61,1322.01 L1574.11,1322.56 L1575.61,1323.09 L1577.12,1323.59 L1578.62,1324.08 L1580.12,1324.54 L1581.62,1324.98 L1583.12,1325.41 L1584.62,1325.81 L1586.12,1326.20 L1587.62,1326.57 L1589.13,1326.92 L1590.63,1327.26 L1592.13,1327.59 L1593.63,1327.90 L1595.13,1328.19 L1596.63,1328.48 L1598.13,1328.75 L1599.63,1329.01 L1601.14,1329.26 L1602.64,1329.49 L1604.14,1329.72 L1605.64,1329.93 L1607.14,1330.14 L1608.64,1330.34 L1610.14,1330.53 L1611.64,1330.71 L1613.15,1330.88 L1614.65,1331.05 L1616.15,1331.21" fill="none" stroke="#000" stroke-width="17.5"/>
<polygon points="1254.56,426.26 1274.56,460.86 1234.56,460.86" fill="#000"/>
<polygon points="1282.53,426.74 1302.53,461.34 1262.53,461.34" fill="#000"/>
<polygon points="1310.49,426.26 1330.49,460.86 1290.49,460.86" fill="#000"/>
<polygon points="1338.45,482.96 1358.45,517.56 1318.45,517.56" fill="#000"/>
<polygon points="1366.42,541.55 1386.42,576.15 1346.42,576.15" fill="#000"/>
<polygon points="1394.38,649.28 1414.38,683.88 1374.38,683.88" fill="#000"/>
<polygon points="1422.35,792.92 1442.35,827.52 1402.35,827.52" fill="#000"/>
<polygon points="1450.32,949.79 1470.32,984.39 1430.32,984.39" fill="#000"/>
<polygon points="1478.28,1137.85 1498.28,1172.45 1458.28,1172.45" fill="#000"/>
<polygon points="1506.24,1267.31 1526.24,1301.91 1486.24,1301.91" fill="#000"/>
<polygon points="1534.21,1280.54 1554.21,1315.14 1514.21,1315.14" fill="#000"/>
<polygon points="1562.17,1291.32 1582.17,1325.92 1542.17,1325.92" fill="#000"/>
<polygon points="1590.14,1291.32 1610.14,1325.92 1570.14,1325.92" fill="#000"/>
<polygon points="1618.11,1291.32 1638.11,1325.92 1598.11,1325.92" fill="#000"/>
</g>
</g>
<g id="axes" fill="#000">
<rect x="360.0" y="77.0" width="1761.0" height="1417.0" fill="none" stroke="#000" stroke-width="17"/>
<rect x="332" y="1391.00" width="22" height="18"/>
<rect x="332" y="1202.00" width="22" height="18"/>
<rect x="332" y="1013.00" width="22" height="18"/>
<rect x="332" y="824.00" width="22" height="18"/>
<rect x="332" y="635.00" width="22" height="18"/>
<rect x="332" y="446.00" width="22" height="18"/>
<rect x="332" y="257.00" width="22" height="18"/>
<rect x="332" y="68.50" width="22" height="17"/>
<rect x="346" y="1485.50" width="8" height="17"/>
<rect x="346" y="1296.50" width="8" height="18"/>
<rect x="346" y="1107.50" width="8" height="18"/>
<rect x="346" y="918.50" width="8" height="18"/>
<rect x="346" y="729.50" width="8" height="18"/>
<rect x="346" y="540.50" width="8" height="18"/>
<rect x="346" y="351.50" width="8" height="18"/>
<rect x="346" y="162.50" width="8" height="18"/>
<rect x="574.40" y="1500" width="18" height="22.5"/>
<rect x="854.05" y="1500" width="18" height="22.5"/>
<rect x="1133.70" y="1500" width="18" height="22.5"/>
<rect x="1413.35" y="1500" width="18" height="22.5"/>
<rect x="1693.00" y="1500" width="18" height="22.5"/>
<rect x="1972.65" y="1500" width="18" height="22.5"/>
<rect x="434.57" y="1500" width="18" height="8"/>
<rect x="714.22" y="1500" width="18" height="8"/>
<rect x="993.88" y="1500" width="18" height="8"/>
<rect x="1273.53" y="1500" width="18" height="8"/>
<rect x="1553.17" y="1500" width="18" height="8"/>
<rect x="1832.82" y="1500" width="18" height="8"/>
<rect x="2112.50" y="1500" width="17" height="8"/>
</g>
<g id="ticklabels" font-size="96">
<text x="313.5" y="1428.2" text-anchor="end">0</text>
<text x="313.5" y="1239.2" text-anchor="end">20</text>
<text x="313.5" y="1050.2" text-anchor="end">40</text>
<text x="313.5" y="861.2" text-anchor="end">60</text>
<text x="313.5" y="672.2" text-anchor="end">80</text>
<text x="313.5" y="483.2" text-anchor="end">100</text>
<text x="313.5" y="294.2" text-anchor="end">120</text>
<text x="313.5" y="105.2" text-anchor="end">140</text>
<text x="582.6" y="1614.5" text-anchor="middle">0</text>
<text x="862.2" y="1614.5" text-anchor="middle">10</text>
<text x="1141.9" y="1614.5" text-anchor="middle">20</text>
<text x="1421.5" y="1614.5" text-anchor="middle">30</text>
<text x="1701.2" y="1614.5" text-anchor="middle">40</text>
<text x="1980.9" y="1614.5" text-anchor="middle">50</text>
</g>
<text id="xtitle" y="1789.5" font-size="121"><tspan x="778">Tempertuare </tspan><tspan class="n" x="1489.5" textLength="45.5" lengthAdjust="spacingAndGlyphs">(</tspan><tspan class="n" x="1527.5" dy="10.5" font-size="138">°</tspan><tspan x="1572.5" dy="-10.5" textLength="93" lengthAdjust="spacingAndGlyphs">C</tspan><tspan class="n" x="1656.5" textLength="45.5" lengthAdjust="spacingAndGlyphs">)</tspan></text>
<text id="ytitle" transform="translate(130.5,1279.5) rotate(-90)" font-size="120.5"><tspan x="0">Transmittance </tspan><tspan class="n" x="785.0" textLength="45.3" lengthAdjust="spacingAndGlyphs">(</tspan><tspan class="n" x="840.0" dy="-3" font-size="130" textLength="95.8" lengthAdjust="spacingAndGlyphs">%</tspan><tspan class="n" x="943.5" dy="3" textLength="46.1" lengthAdjust="spacingAndGlyphs">)</tspan></text>
<g id="legend" font-size="61.5" stroke-linecap="round">
<line x1="386" y1="125.3" x2="419.5" y2="125.3" stroke="#000" stroke-width="18.4"/>
<line x1="472" y1="125.3" x2="506" y2="125.3" stroke="#000" stroke-width="18.4"/>
<rect x="430.25" y="110.05" width="30.50" height="30.50" fill="#000"/>
<text transform="translate(535.3,147.5) scale(0.98,1)">h<tspan font-size="45" dy="17.3">3</tspan><tspan dy="-17.3">P</tspan><tspan class="n">(</tspan>DEGMA-<tspan font-style="italic">co</tspan>-OEGMA<tspan class="n">)</tspan></text>
<line x1="386" y1="205.3" x2="419.5" y2="205.3" stroke="#f00" stroke-width="18.4"/>
<line x1="472" y1="205.3" x2="506" y2="205.3" stroke="#f00" stroke-width="18.4"/>
<rect x="430.25" y="190.05" width="30.50" height="30.50" fill="#f00"/>
<text transform="translate(535.3,227.4) scale(0.98,1)">h<tspan font-size="45" dy="17.3">2</tspan><tspan dy="-17.3">P</tspan><tspan class="n">(</tspan>DEGMA-<tspan font-style="italic">co</tspan>-OEGMA<tspan class="n">)</tspan></text>
<line x1="386" y1="285.5" x2="419.5" y2="285.5" stroke="#00f" stroke-width="18.4"/>
<line x1="472" y1="285.5" x2="506" y2="285.5" stroke="#00f" stroke-width="18.4"/>
<rect x="430.25" y="270.25" width="30.50" height="30.50" fill="#00f"/>
<text transform="translate(535.3,307.4) scale(0.98,1)">h<tspan font-size="45" dy="17.3">1</tspan><tspan dy="-17.3">P</tspan><tspan class="n">(</tspan>DEGMA-<tspan font-style="italic">co</tspan>-OEGMA<tspan class="n">)</tspan></text>
<line x1="386" y1="365.5" x2="419.5" y2="365.5" stroke="#000" stroke-width="18.4"/>
<line x1="472" y1="365.5" x2="506" y2="365.5" stroke="#000" stroke-width="18.4"/>
<polygon points="445.60,342.43 465.85,377.93 425.35,377.93" fill="#000"/>
<text transform="translate(535.6,387.3) scale(0.98,1)">G-3</text>
<line x1="386" y1="436.0" x2="419.5" y2="436.0" stroke="#f00" stroke-width="18.4"/>
<line x1="472" y1="436.0" x2="506" y2="436.0" stroke="#f00" stroke-width="18.4"/>
<polygon points="445.60,412.93 465.85,448.43 425.35,448.43" fill="#f00"/>
<text transform="translate(535.6,457.6) scale(0.98,1)">G-2</text>
<line x1="386" y1="504.3" x2="419.5" y2="504.3" stroke="#00f" stroke-width="18.4"/>
<line x1="472" y1="504.3" x2="506" y2="504.3" stroke="#00f" stroke-width="18.4"/>
<polygon points="445.60,481.23 465.85,516.73 425.35,516.73" fill="#00f"/>
<text transform="translate(535.6,526.5) scale(0.98,1)">G-1</text>
</g>
</g>
</svg></body></html>
